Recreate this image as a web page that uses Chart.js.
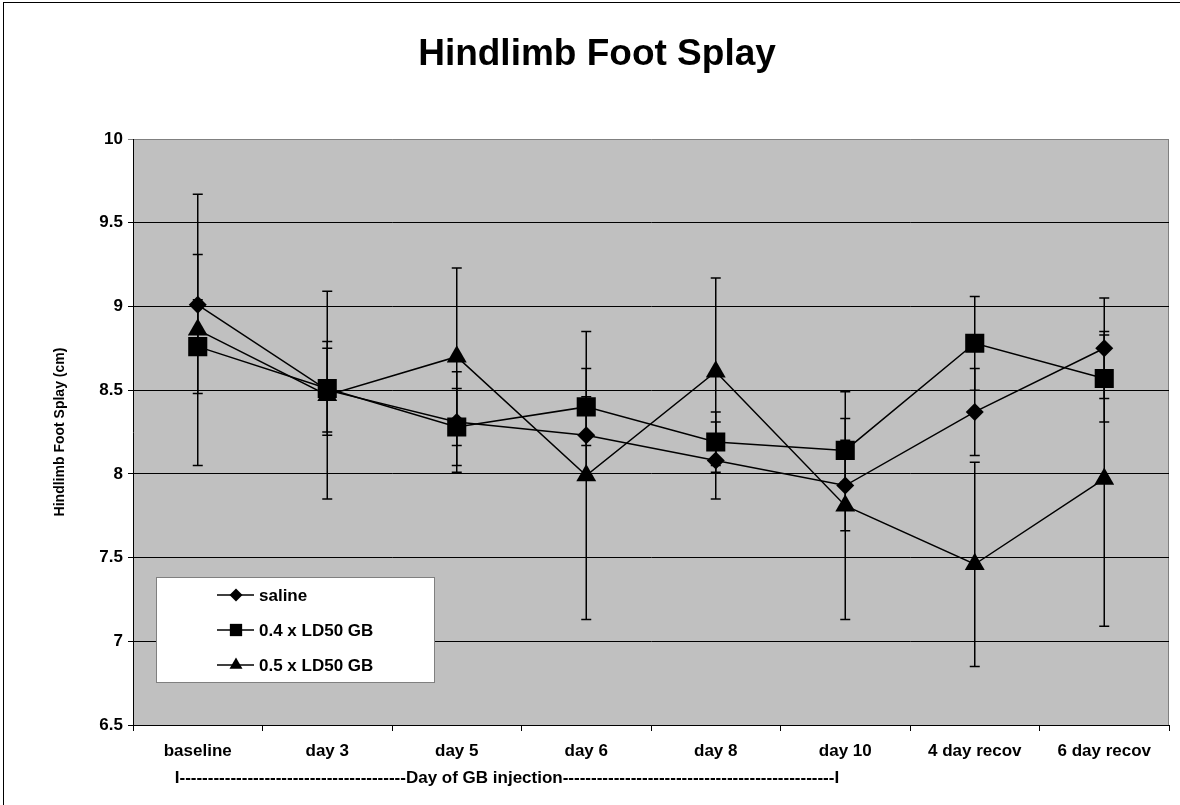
<!DOCTYPE html>
<html>
<head>
<meta charset="utf-8">
<script src="https://cdn.jsdelivr.net/npm/chart.js@4.4.1/dist/chart.umd.min.js"></script>
<style>
html, body { margin: 0; padding: 0; background: #fff; overflow: hidden; }
#wrap { position: relative; width: 1180px; height: 805px; }
#frame { position: absolute; left: 3px; top: 2px; width: 1300px; height: 900px; border: 1px solid #000; pointer-events: none; }
</style>
</head>
<body>
<div id="wrap"><canvas id="chart"></canvas><div id="frame"></div></div>
<script>
const categories = ['baseline', 'day 3', 'day 5', 'day 6', 'day 8', 'day 10', '4 day recov', '6 day recov'];
const saline = [9.01, 8.50, 8.31, 8.23, 8.08, 7.93, 8.37, 8.75];
const salineErr = [0.30, 0.25, 0.30, 0.23, 0.23, 0.27, 0.26, 0.30];
const ld04 = [8.76, 8.51, 8.28, 8.40, 8.19, 8.14, 8.78, 8.57];
const ld04Err = [0.28, 0.28, 0.23, 0.23, 0.18, 0.19, 0.28, 0.26];
const ld05 = [8.86, 8.47, 8.70, 7.99, 8.61, 7.81, 7.46, 7.97];
const ld05Err = [0.81, 0.62, 0.53, 0.86, 0.56, 0.68, 0.61, 0.88];
const yMin = 6.5;
const yMax = 10;
const yStep = 0.5;
const yTickLabels = ['6.5', '7', '7.5', '8', '8.5', '9', '9.5', '10'];
const injectionLabel = 'I----------------------------------------Day of GB injection------------------------------------------------I';

const family = '"Liberation Sans", Arial, sans-serif';

const plotBackground = {
	id: 'plotBackground',
	beforeDraw: chart => {
		const { ctx, chartArea: a } = chart;
		ctx.save();
		ctx.fillStyle = '#c0c0c0';
		ctx.fillRect(a.left, a.top, a.right - a.left, a.bottom - a.top);
		ctx.strokeStyle = '#808080';
		ctx.lineWidth = 1;
		ctx.beginPath();
		ctx.moveTo(Math.round(a.right) - 0.5, a.top);
		ctx.lineTo(Math.round(a.right) - 0.5, a.bottom);
		ctx.stroke();
		ctx.restore();
	}
};

const errorBars = {
	id: 'errorBars',
	beforeDatasetsDraw: chart => {
		const ctx = chart.ctx;
		const y = chart.scales.y;
		ctx.save();
		ctx.strokeStyle = '#000';
		ctx.lineWidth = 1.5;
		chart.data.datasets.forEach((ds, d) => {
			const meta = chart.getDatasetMeta(d);
			meta.data.forEach((pt, i) => {
				const top = y.getPixelForValue(ds.data[i] + ds.errors[i]);
				const bottom = y.getPixelForValue(ds.data[i] - ds.errors[i]);
				ctx.beginPath();
				ctx.moveTo(pt.x, top);
				ctx.lineTo(pt.x, bottom);
				ctx.moveTo(pt.x - 5, top);
				ctx.lineTo(pt.x + 5, top);
				ctx.moveTo(pt.x - 5, bottom);
				ctx.lineTo(pt.x + 5, bottom);
				ctx.stroke();
			});
		});
		ctx.restore();
	}
};

const legendRadius = [6.5, 8.7, 7.5];
const boxLegend = {
	id: 'boxLegend',
	afterDraw: chart => {
		const { ctx, chartArea: a } = chart;
		const left = Math.round(a.left) + 23;
		const top = Math.round(a.top) + 438;
		ctx.save();
		ctx.fillStyle = '#fff';
		ctx.fillRect(left, top, 278, 105);
		ctx.strokeStyle = '#808080';
		ctx.lineWidth = 1;
		ctx.strokeRect(left + 0.5, top + 0.5, 278, 105);
		ctx.font = 'bold 17px ' + family;
		ctx.textBaseline = 'middle';
		chart.data.datasets.forEach((ds, i) => {
			const y = top + 18 + i * 35;
			ctx.strokeStyle = '#000';
			ctx.lineWidth = 1.5;
			ctx.beginPath();
			ctx.moveTo(left + 61, y);
			ctx.lineTo(left + 98, y);
			ctx.stroke();
			ctx.fillStyle = '#000';
			Chart.helpers.drawPoint(ctx, { pointStyle: ds.pointStyle, radius: legendRadius[i], borderWidth: 0, rotation: 0 }, left + 80, y);
			ctx.fillStyle = '#000';
			ctx.fillText(ds.label, left + 103, y + 1);
		});
		ctx.restore();
	}
};

const injectionTitle = {
	id: 'injectionTitle',
	afterDraw: chart => {
		const ctx = chart.ctx;
		const x = chart.scales.x.getPixelForValue(0) - 23;
		ctx.save();
		ctx.font = 'bold 17px ' + family;
		ctx.fillStyle = '#000';
		ctx.textAlign = 'left';
		ctx.textBaseline = 'alphabetic';
		ctx.fillText(injectionLabel, x, 783);
		ctx.restore();
	}
};

const series = (label, data, errors, style, radius) => ({
	label: label,
	data: data,
	errors: errors,
	borderColor: '#000',
	backgroundColor: '#000',
	borderWidth: 1.5,
	pointStyle: style,
	pointRadius: radius,
	pointBorderWidth: 0,
	pointBackgroundColor: '#000',
	tension: 0
});

new Chart(document.getElementById('chart'), {
	type: 'line',
	data: {
		labels: categories,
		datasets: [
			series('saline', saline, salineErr, 'rectRot', 9),
			series('0.4 x LD50 GB', ld04, ld04Err, 'rect', 13.5),
			series('0.5 x LD50 GB', ld05, ld05Err, 'triangle', 11.5)
		]
	},
	options: {
		responsive: true,
		maintainAspectRatio: false,
		devicePixelRatio: 1,
		animation: false,
		layout: { autoPadding: false, padding: { left: 25, right: 11, top: 0, bottom: 0 } },
		plugins: {
			legend: { display: false },
			tooltip: { enabled: false },
			title: {
				display: true,
				text: 'Hindlimb Foot Splay',
				color: '#000',
				font: { family: family, size: 37, weight: 'bold', lineHeight: 1.2 },
				padding: { top: 33, bottom: 61.6 }
			}
		},
		scales: {
			x: {
				offset: true,
				grid: { drawOnChartArea: false, drawTicks: true, tickLength: 6, color: '#000', offset: true },
				border: { color: '#000', width: 1 },
				ticks: { color: '#000', font: { family: family, size: 17, weight: 'bold' }, padding: 10, maxRotation: 0, autoSkip: false },
				afterFit: s => {
					s.height = 80;
					s.paddingLeft = 0;
					s.paddingRight = 0;
				}
			},
			y: {
				min: yMin,
				max: yMax,
				ticks: {
					stepSize: yStep,
					color: '#000',
					font: { family: family, size: 17, weight: 'bold' },
					padding: 5,
					callback: (value, index) => yTickLabels[index]
				},
				grid: { color: c => c.tick && c.tick.value === yMax ? '#808080' : '#000', lineWidth: 1, tickLength: 5 },
				border: { color: '#000', width: 1 },
				title: { display: true, text: 'Hindlimb Foot Splay (cm)', color: '#000', font: { family: family, size: 14, weight: 'bold' }, padding: { top: 27 } },
				afterFit: s => { s.width = 108; }
			}
		}
	},
	plugins: [plotBackground, errorBars, boxLegend, injectionTitle]
});
</script>
</body>
</html>
